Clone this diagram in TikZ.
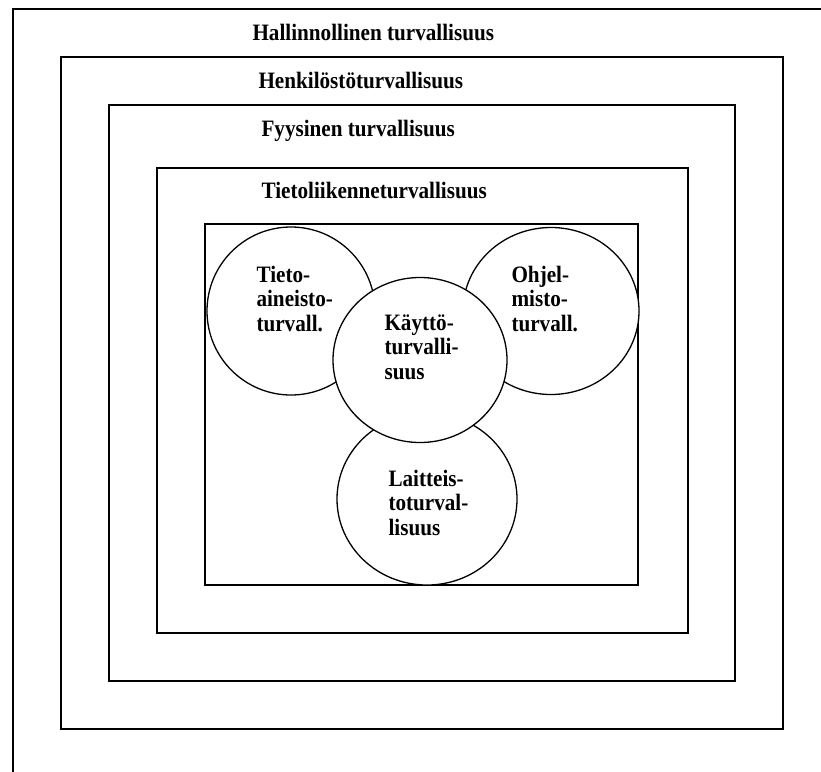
\documentclass[tikz,border=0pt]{standalone}
\usepackage{fontspec}
\setmainfont{Liberation Serif}[FakeStretch=0.9]
\usepackage{tikz}
\usetikzlibrary{shapes.geometric}

\newcommand{\diagfont}{\fontsize{23.5}{24.5}\selectfont\bfseries}

\begin{document}
\begin{tikzpicture}[
    x=1pt, y=-1pt,
    frame/.style={draw, line width=1.4pt},
    ring/.style={ellipse, draw, fill=white, line width=1.3pt, inner sep=0pt},
    title/.style={anchor=base west, font=\diagfont},
    lbl/.style={anchor=base west, align=left, font=\diagfont}
]
\useasboundingbox (0,0) rectangle (821,771);
\clip (0,0) rectangle (821,771);

% nested frames
\draw[frame] (13,9) rectangle (840,790);
\draw[frame] (61,57) rectangle (783,729);
\draw[frame] (109,105) rectangle (735,681);
\draw[frame] (157,168) rectangle (688,633);
\draw[frame] (205,224) rectangle (638,585);

\node[title] (hallinto) at (249,40) {Hallinnollinen turvallisuus};
\node[title] (henkilo) at (255,88) {Henkilöstöturvallisuus};
\node[title] (fyysinen) at (258,136) {Fyysinen turvallisuus};
\node[title] (liikenne) at (258,198) {Tietoliikenneturvallisuus};

% circles
\node[ring, minimum width=168pt, minimum height=168pt] (tieto) at (291,311) {};
\node[ring, minimum width=176pt, minimum height=167pt] (ohjelmisto) at (551,311) {};
\node[ring, minimum width=180pt, minimum height=172pt] (laitteisto) at (427,499) {};
\node[ring, minimum width=174pt, minimum height=165pt] (kaytto) at (420,360) {};

% labels, anchored at the baseline of the last line
\node[lbl] (tietolbl) at (253,331) {Tieto-\\aineisto-\\turvall.};
\node[lbl] (ohjelmistolbl) at (508,331) {Ohjel-\\misto-\\turvall.};
\node[lbl] (kayttolbl) at (381,379) {Käyttö-\\turvalli-\\suus};
\node[lbl] (laitteistolbl) at (385,535) {Laitteis-\\toturval-\\lisuus};
\end{tikzpicture}
\end{document}
